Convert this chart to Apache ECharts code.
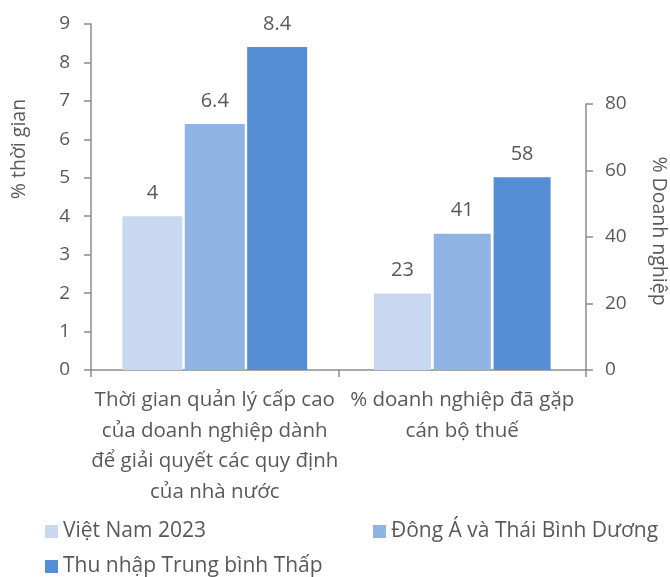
<!DOCTYPE html>
<html>
<head>
<meta charset="utf-8">
<script src="https://cdn.jsdelivr.net/npm/echarts@6/dist/echarts.min.js"></script>
<style>
  html, body { margin: 0; padding: 0; background: #ffffff; }
  #chart { width: 670px; height: 577px; }
</style>
</head>
<body>
<div id="chart"></div>
<script>
// Category names (line breaks give the wrapped axis labels)
const categories = [
  'Thời gian quản lý cấp cao\ncủa doanh nghiệp dành\nđể giải quyết các quy định\ncủa nhà nước',
  '% doanh nghiệp đã gặp\ncán bộ thuế'
];
const seriesNames = ['Việt Nam 2023', 'Đông Á và Thái Bình Dương', 'Thu nhập Trung bình Thấp'];
// % of senior management time (left axis)
const timeShare = [4, 6.4, 8.4];
// % of firms visited by tax officials (right axis)
const firmShare = [23, 41, 58];
const leftAxisTitle = '% thời gian';
const rightAxisTitle = '% Doanh nghiệp';
const leftAxisRange = { min: 0, max: 9, interval: 1 };
const rightAxisRange = { min: 0, max: 80, interval: 20 };

const colors = ['#C7D8F0', '#8FB4E3', '#558ED5'];
const textColor = '#595959';
const axisColor = '#8C8C8C';
const fontFamily = '"Open Sans", "Noto Sans", sans-serif';

const chart = echarts.init(document.getElementById('chart'), null, { renderer: 'canvas' });

const labelStyle = {
  show: true,
  position: 'top',
  distance: 13,
  color: textColor,
  fontSize: 20,
  fontFamily: fontFamily
};

const series = [];
seriesNames.forEach((name, i) => {
  series.push({
    name: name,
    type: 'bar',
    xAxisIndex: 0,
    yAxisIndex: 0,
    data: [timeShare[i], '-'],
    barWidth: 60,
    barGap: '4%',
    itemStyle: { color: colors[i] },
    label: labelStyle
  });
});
seriesNames.forEach((name, i) => {
  series.push({
    name: name,
    type: 'bar',
    xAxisIndex: 1,
    yAxisIndex: 1,
    data: ['-', firmShare[i]],
    barWidth: 57,
    barGap: '5%',
    itemStyle: { color: colors[i] },
    label: labelStyle
  });
});

const option = {
  animation: false,
  textStyle: { fontFamily: fontFamily, color: textColor },
  grid: [
    { left: 91, right: 84, top: 24, bottom: 207, containLabel: false },
    { left: 91, right: 84, top: 104, bottom: 207, containLabel: false }
  ],
  xAxis: [
    {
      type: 'category',
      gridIndex: 0,
      data: categories,
      axisLine: { show: true, lineStyle: { color: axisColor, width: 1.5 } },
      axisTick: { show: true, alignWithLabel: false, length: 7, lineStyle: { color: axisColor, width: 1.5 } },
      axisLabel: {
        color: textColor,
        fontSize: 20.5,
        lineHeight: 30.5,
        margin: 15,
        interval: 0,
        fontFamily: fontFamily
      }
    },
    {
      type: 'category',
      gridIndex: 1,
      data: categories,
      show: false
    }
  ],
  yAxis: [
    {
      type: 'value',
      gridIndex: 0,
      position: 'left',
      min: leftAxisRange.min,
      max: leftAxisRange.max,
      interval: leftAxisRange.interval,
      splitLine: { show: false },
      axisLine: { show: true, lineStyle: { color: axisColor, width: 1.5 } },
      axisTick: { show: true, length: 7, lineStyle: { color: axisColor, width: 1.5 } },
      axisLabel: { color: textColor, fontSize: 19, margin: 21, fontFamily: fontFamily }
    },
    {
      type: 'value',
      gridIndex: 1,
      position: 'right',
      min: rightAxisRange.min,
      max: rightAxisRange.max,
      interval: rightAxisRange.interval,
      splitLine: { show: false },
      axisLine: { show: true, lineStyle: { color: axisColor, width: 1.5 } },
      axisTick: { show: true, length: 7, lineStyle: { color: axisColor, width: 1.5 } },
      axisLabel: { color: textColor, fontSize: 19, margin: 19, fontFamily: fontFamily }
    }
  ],
  legend: [
    {
      data: [seriesNames[0], seriesNames[1]],
      left: 45,
      top: 521,
      padding: 0,
      icon: 'rect',
      itemWidth: 13,
      itemHeight: 13,
      itemGap: 167,
      textStyle: { color: textColor, fontSize: 21, fontFamily: fontFamily }
    },
    {
      data: [seriesNames[2]],
      left: 45,
      top: 556,
      padding: 0,
      icon: 'rect',
      itemWidth: 13,
      itemHeight: 13,
      textStyle: { color: textColor, fontSize: 21, fontFamily: fontFamily }
    }
  ],
  graphic: [
    {
      type: 'text',
      x: 19,
      y: 149,
      rotation: Math.PI / 2,
      style: {
        text: leftAxisTitle,
        fill: textColor,
        font: '19.5px ' + fontFamily,
        align: 'center',
        verticalAlign: 'middle'
      }
    },
    {
      type: 'text',
      x: 659,
      y: 231,
      rotation: -Math.PI / 2,
      style: {
        text: rightAxisTitle,
        fill: textColor,
        font: '19.5px ' + fontFamily,
        align: 'center',
        verticalAlign: 'middle'
      }
    }
  ],
  series: series
};

chart.setOption(option);
</script>
</body>
</html>
